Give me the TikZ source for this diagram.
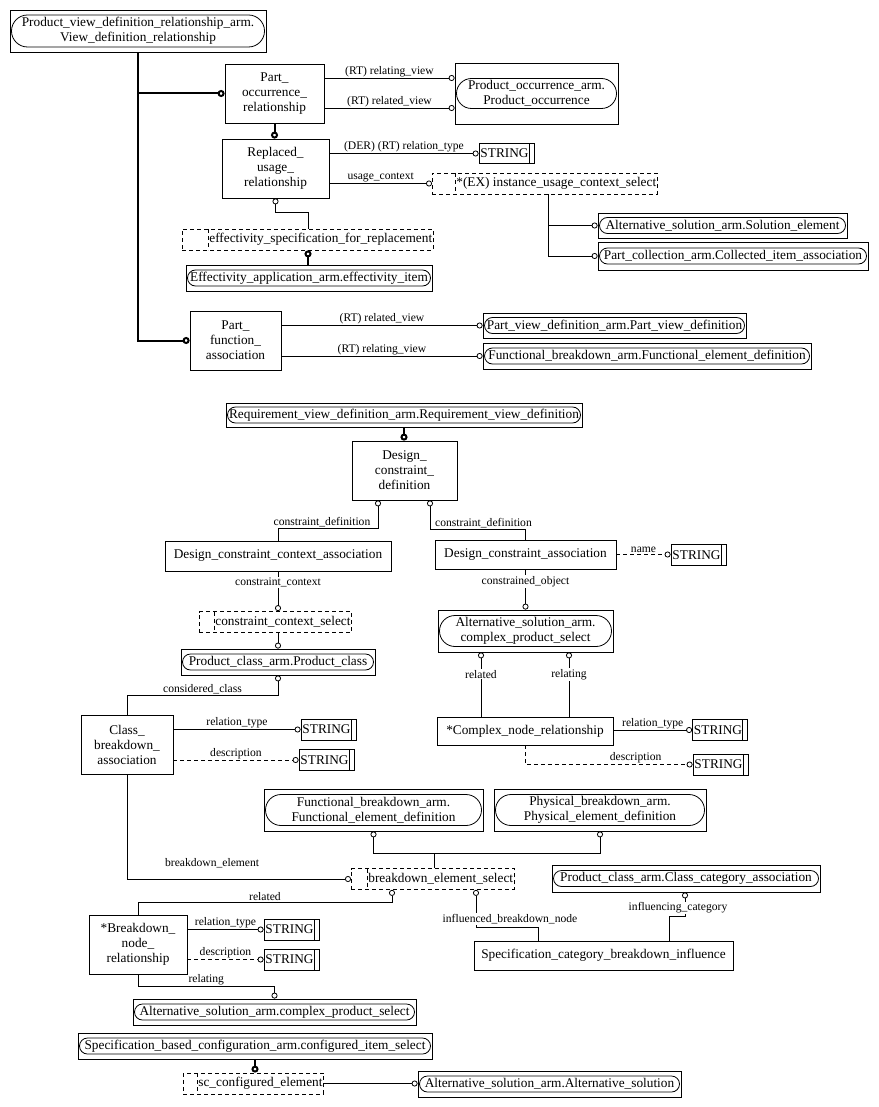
\documentclass[tikz,border=0pt]{standalone}
\usepackage{fontspec}
\setmainfont{Liberation Serif}
\usetikzlibrary{arrows.meta}
\tikzset{
  every picture/.style={line width=0.8pt},
  ent/.style={draw, rectangle, align=center, inner sep=1pt, font=\fontsize{13.3}{15}\selectfont},
  extref/.style={ent, path picture={\draw[rounded corners=#1] ([xshift=1.5pt,yshift=#1]path picture bounding box.west) rectangle ([xshift=-1.5pt,yshift=-#1]path picture bounding box.east);}},
  extref/.default=8pt,
  selbox/.style={ent, dash pattern=on 4pt off 3pt, anchor=west, minimum height=21, execute at begin node={\hspace*{#1}},
    path picture={\draw[dash pattern=on 4pt off 3pt] ([xshift=#1]path picture bounding box.north west) -- ([xshift=#1]path picture bounding box.south west);}},
  typbox/.style={ent, minimum width=55, minimum height=21, execute at end node={\hspace*{4pt}},
    path picture={\draw ([xshift=-5pt]path picture bounding box.north east) -- ([xshift=-5pt]path picture bounding box.south east);}},
  rel/.style={-{Circle[open, length=6pt, width=6pt]}},
  optrel/.style={rel, dash pattern=on 4pt off 3pt},
  thickrel/.style={line width=2pt, -{Circle[open, length=7pt, width=7pt]}},
  lbl/.style={font=\fontsize{11.6}{13}\selectfont, fill=white, inner sep=1pt},
}

\begin{document}
\begin{tikzpicture}[x=1pt, y=-1pt]
  \useasboundingbox (0,0) rectangle (878,1107);

  \node[extref=16pt, minimum width=256, minimum height=42] (pvdr) at (138,31) {Product\_view\_definition\_relationship\_arm.\\View\_definition\_relationship};
  \node[ent, minimum width=99, minimum height=59] (por) at (274.5,93.5) {Part\_\\occurrence\_\\relationship};
  \node[extref=15pt, minimum width=163, minimum height=61] (po) at (536.5,93.5) {Product\_occurrence\_arm.\\Product\_occurrence};
  \node[ent, minimum width=107, minimum height=59] (rur) at (275.5,168.5) {Replaced\_\\usage\_\\relationship};
  \node[typbox, minimum height=20] (strA) at (506.5,153.5) {STRING};
  \node[selbox=23pt] (ucs) at (432,183.5) {*(EX) instance\_usage\_context\_select};
  \node[extref, minimum width=249, minimum height=25] (solel) at (722.5,225.5) {Alternative\_solution\_arm.Solution\_element};
  \node[extref, minimum width=270, minimum height=28] (colitem) at (733,256) {Part\_collection\_arm.Collected\_item\_association};
  \node[selbox=26pt] (esr) at (182,239.5) {effectivity\_specification\_for\_replacement};
  \node[extref, minimum width=246, minimum height=26] (effitem) at (309,278) {Effectivity\_application\_arm.effectivity\_item};
  \node[ent, minimum width=91, minimum height=59] (pfa) at (235.5,340.5) {Part\_\\function\_\\association};
  \node[extref, minimum width=263, minimum height=25] (pvd) at (614.5,325.5) {Part\_view\_definition\_arm.Part\_view\_definition};
  \node[extref, minimum width=328, minimum height=26] (fedA) at (647,356) {Functional\_breakdown\_arm.Functional\_element\_definition};

  \draw[thickrel] (pvdr.south) |- (pfa.west);
  \draw[thickrel] (pvdr.south |- por.west) -- (por.west);
  \draw[thickrel] (por.south) -- (por.south |- rur.north);
  \draw[rel] (por.east |- 0,78) -- node[lbl, above] {(RT) relating\_view} (po.west |- 0,78);
  \draw[rel] (por.east |- 0,108) -- node[lbl, above] {(RT) related\_view} (po.west |- 0,108);
  \draw[rel] (rur.east |- strA.west) -- node[lbl, above] {(DER) (RT) relation\_type} (strA.west);
  \draw[rel] (rur.east |- ucs.west) -- node[lbl, above] {usage\_context} (ucs.west);
  \draw[rel] (ucs.south -| 548,0) |- (solel.west);
  \draw[rel] (ucs.south -| 548,0) |- (colitem.west);
  \draw[rel] (esr.north -| 308,0) |- (rur.south |- 0,212) -- (rur.south);
  \draw[thickrel] (effitem.north -| 308,0) -- (esr.south -| 308,0);
  \draw[rel] (pfa.east |- pvd.west) -- node[lbl, above] {(RT) related\_view} (pvd.west);
  \draw[rel] (pfa.east |- fedA.west) -- node[lbl, above] {(RT) relating\_view} (fedA.west);

  \node[extref, minimum width=356, minimum height=24] (rvd) at (404,415) {Requirement\_view\_definition\_arm.Requirement\_view\_definition};
  \node[ent, minimum width=105, minimum height=59] (dcd) at (404.5,470.5) {Design\_\\constraint\_\\definition};
  \node[ent, minimum width=226, minimum height=30] (dcca) at (278,556) {Design\_constraint\_context\_association};
  \node[ent, minimum width=181, minimum height=29] (dca) at (525.5,554.5) {Design\_constraint\_association};
  \node[typbox] (strB) at (698.5,555) {STRING};
  \node[selbox=15pt] (ccs) at (199,622) {constraint\_context\_select};
  \node[extref, minimum width=194, minimum height=26] (pc) at (278,662) {Product\_class\_arm.Product\_class};
  \node[ent, minimum width=92, minimum height=59] (cba) at (127,744.5) {Class\_\\breakdown\_\\association};
  \node[typbox] (strC) at (328.5,729.5) {STRING};
  \node[typbox] (strD) at (326.5,760) {STRING};
  \node[extref=15.5pt, minimum width=175, minimum height=42] (cpsA) at (525.5,631) {Alternative\_solution\_arm.\\complex\_product\_select};
  \node[ent, minimum width=176, minimum height=28] (cnr) at (525,731) {*Complex\_node\_relationship};
  \node[typbox] (strE) at (720,730) {STRING};
  \node[typbox] (strF) at (720.5,764.5) {STRING};

  \draw[thickrel] (rvd.south) -- (rvd.south |- dcd.north);
  \draw[rel] (dcca.north) |- node[lbl, pos=0.72, above] {constraint\_definition} (378,528) -- (dcd.south -| 378,0);
  \draw[rel] (dca.north) |- node[lbl, pos=0.72, above] {constraint\_definition} (430,529) -- (dcd.south -| 430,0);
  \draw[optrel] (dca.east) -- node[lbl, above] {name} (strB.west |- dca.east);
  \draw[rel] (dcca.south) -- node[lbl, pos=0.27] {constraint\_context} (dcca.south |- ccs.north);
  \draw[rel] (pc.north |- ccs.south) -- (pc.north);
  \draw[rel] (cba.north) |- node[lbl, pos=0.75, above] {considered\_class} (278,695) -- (pc.south);
  \draw[rel] (cba.east |- strC.west) -- node[lbl, above] {relation\_type} (strC.west);
  \draw[optrel] (cba.east |- strD.west) -- node[lbl, above] {description} (strD.west);
  \draw[rel] (dca.south) -- node[lbl, pos=0.3] {constrained\_object} (cpsA.north);
  \draw[rel] (cnr.north -| 481,0) -- node[lbl, pos=0.66] {related} (cpsA.south -| 481,0);
  \draw[rel] (cnr.north -| 569,0) -- node[lbl, pos=0.66] {relating} (cpsA.south -| 569,0);
  \draw[rel] (cnr.east |- strE.west) -- node[lbl, above] {relation\_type} (strE.west);
  \draw[optrel] (cnr.south) |- node[lbl, pos=0.83, above] {description} (strF.west);

  \node[extref=15.5pt, minimum width=219, minimum height=42] (fedB) at (373.5,810) {Functional\_breakdown\_arm.\\Functional\_element\_definition};
  \node[extref=15.5pt, minimum width=212, minimum height=42] (ped) at (600,810) {Physical\_breakdown\_arm.\\Physical\_element\_definition};
  \node[selbox=16pt] (bes) at (351,879) {breakdown\_element\_select};
  \node[extref, minimum width=268, minimum height=27] (cca) at (686,878.5) {Product\_class\_arm.Class\_category\_association};
  \node[ent, minimum width=98, minimum height=59] (bnr) at (138,944.5) {*Breakdown\_\\node\_\\relationship};
  \node[typbox] (strG) at (291.5,929.5) {STRING};
  \node[typbox] (strH) at (291.5,959.5) {STRING};
  \node[ent, minimum width=259, minimum height=29] (scbi) at (603.5,955.5) {Specification\_category\_breakdown\_influence};
  \node[extref, minimum width=283, minimum height=26] (cpsB) at (274.5,1012) {Alternative\_solution\_arm.complex\_product\_select};

  \draw[rel] (bes.north -| 434,0) -- (434,853) -| (fedB.south);
  \draw[rel] (bes.north -| 434,0) -- (434,853) -| (ped.south);
  \draw[rel] (cba.south) |- node[lbl, pos=0.69, above=10pt] {breakdown\_element} (bes.west);
  \draw[rel] (bnr.north) |- node[lbl, pos=0.75, above] {related} (392,902) -- (bes.south -| 392,0);
  \draw[rel] (scbi.north -| 538,0) |- (476,927) -- (bes.south -| 476,0);
  \node[lbl] (lblinfl) at (510,919) {influenced\_breakdown\_node};
  \draw[rel] (scbi.north -| 669,0) |- (685,916) -- (cca.south -| 685,0);
  \node[lbl] (lblincat) at (678,908) {influencing\_category};
  \draw[rel] (bnr.east |- strG.west) -- node[lbl, above] {relation\_type} (strG.west);
  \draw[optrel] (bnr.east |- strH.west) -- node[lbl, above] {description} (strH.west);
  \draw[rel] (bnr.south) |- node[lbl, pos=0.75, above] {relating} (cpsB.north |- 0,986) -- (cpsB.north);

  \node[extref, minimum width=354, minimum height=26] (sbc) at (255,1046) {Specification\_based\_configuration\_arm.configured\_item\_select};
  \node[selbox=14pt] (sce) at (183,1083.5) {sc\_configured\_element};
  \node[extref, minimum width=263, minimum height=26] (altsol) at (549.5,1084) {Alternative\_solution\_arm.Alternative\_solution};
  \draw[thickrel] (sbc.south) -- (sbc.south |- sce.north);
  \draw[rel] (sce.east) -- (altsol.west |- sce.east);
\end{tikzpicture}
\end{document}
